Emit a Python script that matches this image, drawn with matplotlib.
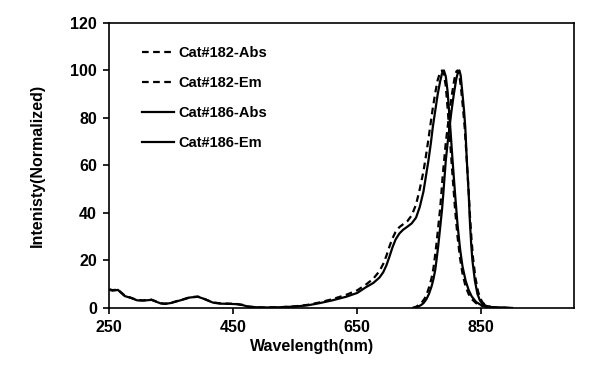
import matplotlib
matplotlib.use("Agg")
import matplotlib.pyplot as plt

plt.rcParams['font.family'] = ['Liberation Sans', 'DejaVu Sans']
plt.rcParams['font.weight'] = 'bold'

# Cat#186 absorbance (solid)
abs186_nm = [250, 255, 259, 264, 268, 275, 285, 295, 305, 318, 326, 333, 340, 350, 358,
             370, 380, 393, 401, 410, 418, 430, 445, 455, 465, 475, 487, 500, 525, 550,
             570, 589, 610, 632, 650, 664, 676, 686, 692, 697, 702, 707, 712, 718, 724,
             731, 738, 745, 751, 757, 761, 765, 769, 772, 776, 780, 784, 787, 790, 793,
             796, 800, 804, 808, 812, 816, 820, 825, 830, 835, 842, 850, 860, 870, 885, 900]
abs186_val = [7.6, 7.3, 7.4, 7.6, 6.6, 5.0, 4.2, 3.2, 3.1, 3.4, 2.6, 1.9, 1.7, 2.1, 2.7,
              3.6, 4.4, 4.7, 4.0, 3.0, 2.2, 1.8, 1.7, 1.6, 1.2, 0.5, 0.3, 0.2, 0.3, 0.6,
              1.1, 2.0, 3.2, 4.7, 6.3, 8.7, 10.5, 12.8, 15.0, 17.8, 21.5, 25.5, 28.8, 31.3, 32.9,
              34.2, 35.6, 38.0, 42.5, 49.0, 55.5, 62.0, 69.5, 76.0, 83.0, 90.0, 95.5, 98.8, 100, 97.5,
              91.0, 77.0, 62.0, 48.0, 35.0, 25.0, 17.5, 11.5, 7.5, 4.8, 2.5, 1.2, 0.5, 0.2, 0.1, 0.0]

# Cat#182 absorbance (dashed)
abs182_nm = abs186_nm
abs182_val = [7.9, 7.5, 7.6, 7.8, 6.8, 5.2, 4.3, 3.3, 3.2, 3.5, 2.7, 2.0, 1.8, 2.2, 2.8,
              3.7, 4.5, 4.8, 4.1, 3.1, 2.3, 1.9, 1.8, 1.7, 1.3, 0.6, 0.3, 0.2, 0.3, 0.7,
              1.3, 2.3, 3.7, 5.5, 7.4, 9.8, 12.3, 15.5, 18.5, 21.8, 25.8, 29.3, 32.0, 34.0, 35.2,
              36.5, 39.0, 43.5, 50.0, 57.5, 64.0, 71.0, 78.5, 84.0, 90.5, 96.0, 99.3, 100, 98.5, 93.5,
              84.0, 70.0, 55.5, 41.5, 30.0, 21.0, 14.5, 9.0, 5.8, 3.7, 2.0, 1.0, 0.4, 0.2, 0.1, 0.0]

# Cat#186 emission (solid)
em186_nm = [742, 748, 753, 757, 762, 766, 770, 773, 776, 778, 781, 784, 787, 789, 791,
            793, 796, 799, 802, 806, 810, 813, 815, 817, 820, 822.5, 824.5, 827, 830, 832,
            834, 836, 840, 844, 848, 852, 858, 865, 875, 890]
em186_val = [0.0, 0.5, 1.2, 2.0, 3.8, 6.0, 9.0, 12.0, 16.0, 20.0, 26.5, 34.0, 41.5, 48.0, 55.0,
             62.0, 69.5, 76.0, 82.5, 90.0, 96.5, 99.5, 100, 98.0, 90.0, 83.0, 76.0, 62.0, 48.0, 36.0,
             27.0, 20.0, 11.5, 6.0, 3.2, 1.8, 0.9, 0.4, 0.1, 0.0]

# Cat#182 emission (dashed)
em182_nm = [739, 745, 750, 754, 759, 763, 767, 770, 773, 775, 778, 781, 784, 786, 788,
            790.5, 793, 796, 799, 803, 807, 810, 812, 815, 818, 821, 823.5, 826.5, 829.5, 832,
            834.5, 837, 841, 845, 849, 853, 859, 866, 876, 890]
em182_val = [0.0, 0.5, 1.3, 2.2, 4.0, 6.3, 9.5, 12.5, 16.5, 20.5, 27.0, 34.5, 42.0, 48.5, 55.5,
             62.5, 69.5, 76.0, 82.5, 90.0, 96.5, 99.5, 100, 98.0, 91.5, 83.5, 76.0, 64.0, 51.0, 39.0,
             29.0, 21.0, 12.5, 7.0, 3.8, 2.1, 1.0, 0.4, 0.1, 0.0]

fig = plt.figure(figsize=(6.15, 3.76), dpi=100)
ax = fig.add_axes([0.1777, 0.181, 0.7557, 0.758])

dash = (0, (3, 2))
ax.plot(abs182_nm, abs182_val, color='black', lw=1.6, linestyle=dash, label='Cat#182-Abs')
ax.plot(em182_nm, em182_val, color='black', lw=1.6, linestyle=dash, label='Cat#182-Em')
ax.plot(abs186_nm, abs186_val, color='black', lw=1.6, label='Cat#186-Abs')
ax.plot(em186_nm, em186_val, color='black', lw=1.6, label='Cat#186-Em')

ax.set_xlim(250, 1000)
ax.set_ylim(0, 120)
ax.set_xticks([250, 450, 650, 850])
ax.set_yticks([0, 20, 40, 60, 80, 100, 120])
ax.tick_params(direction='out', length=4, width=1.2, labelsize=11.5, pad=5)
for sp in ax.spines.values():
    sp.set_linewidth(1.2)

ax.set_xlabel('Wavelength(nm)', fontsize=11.5, fontweight='bold')
ax.set_ylabel('Intenisty(Normalized)', fontsize=11.5, fontweight='bold')
ax.xaxis.set_label_coords(0.436, -0.11)
ax.yaxis.set_label_coords(-0.138, 0.5)

ax.legend(loc='upper left', bbox_to_anchor=(0.0697, 0.918), frameon=False,
          handlelength=2.2, handletextpad=0.3, labelspacing=1.1,
          borderpad=0, borderaxespad=0, prop={'weight': 'bold', 'size': 10.5})

fig.savefig('out.png', dpi=100)
